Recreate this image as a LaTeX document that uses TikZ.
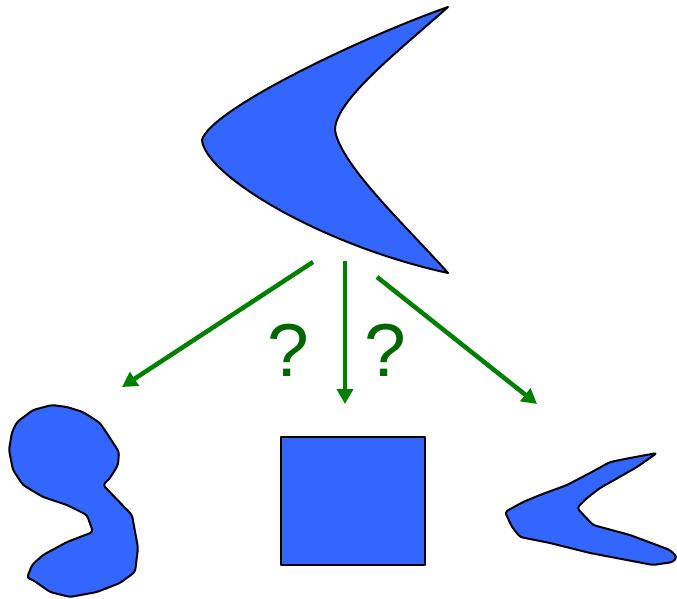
\documentclass[tikz,border=0pt]{standalone}
\usepackage{fontspec}
\setmainfont{Liberation Sans}
\usepackage{tikz}
\usetikzlibrary{arrows.meta}
\usepackage{xcolor}
\definecolor{shapeblue}{HTML}{3366FF}
\definecolor{arrowgreen}{HTML}{008000}
\definecolor{markgreen}{HTML}{006600}

\begin{document}
\begin{tikzpicture}[x=1pt,y=-1pt,>={Triangle[length=15pt,width=16pt]},
  blob/.style={fill=shapeblue,draw=black,line width=2pt,line join=round},
  guess/.style={->,arrowgreen,line width=4.5pt},
  qmark/.style={markgreen,font=\fontsize{75}{75}\selectfont}]
\useasboundingbox (0,0) rectangle (677,599);
% original boomerang
\draw[blob] (448,7) .. controls (360,38) and (210,110) .. (202,140)
  .. controls (205,175) and (320,245) .. (448,273)
  .. controls (410,230) and (340,165) .. (335,130)
  .. controls (335,100) and (400,50) .. cycle;
% bent blob
\draw[blob,rounded corners=3pt] (52,405) -- (33,410) -- (17,422) -- (12,432) -- (9,450)
  -- (13,470) -- (23,485) -- (43,497) -- (67,505) -- (87,515) -- (93,532)
  -- (67,542) -- (43,555) -- (32,565) -- (27,578) -- (33,580) -- (50,592)
  -- (70,597) -- (97,592) -- (120,583) -- (135,572) -- (138,548) -- (132,515)
  -- (103,485) -- (110,478) -- (118,465) -- (119,452) -- (110,438)
  -- (100,423) -- (83,412) -- (67,407) -- cycle;
% square
\draw[blob] (281,437) rectangle (425,565);
% rough boomerang
\draw[blob,rounded corners=3pt] (505,512) -- (523,502) -- (540,495) -- (567,485)
  -- (590,473) -- (610,462) -- (630,458) -- (657,453) -- (637,467) -- (623,475)
  -- (600,488) -- (587,498) -- (577,508) -- (593,525) -- (630,535) -- (670,550)
  -- (677,557) -- (673,562) -- (653,565) -- (590,553) -- (550,543) -- (520,537)
  -- (512,527) -- cycle;
% arrows
\coordinate (s1) at (313,262);
\coordinate (s2) at (345,261);
\coordinate (s3) at (377,277);
\coordinate (e1) at (122,387);
\coordinate (e2) at (345,404);
\coordinate (e3) at (537,404);
\draw[guess] (s1) -- (e1);
\draw[guess] (s2) -- (e2);
\draw[guess] (s3) -- (e3);
\node[qmark] (q1) at (288,350) {?};
\node[qmark] (q2) at (385,350) {?};
\end{tikzpicture}
\end{document}
